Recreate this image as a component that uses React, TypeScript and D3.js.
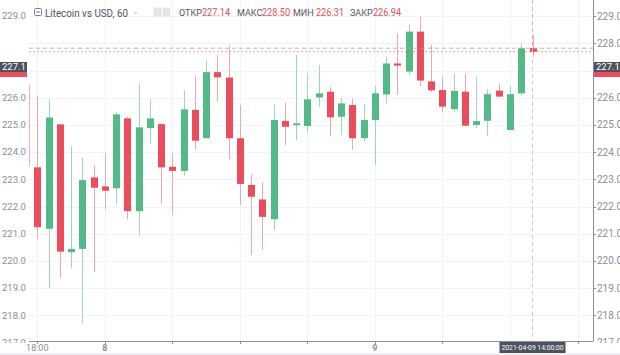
import React from "react";
import * as d3 from "d3";

// Hourly candles, Litecoin vs USD — from 2021-04-07 17:00 (partly hidden) to 2021-04-09 14:00
const opens = [226.47, 223.44, 221.18, 225.02, 220.32, 220.44, 223.07, 222.74, 222.67, 225.24, 221.83, 224.88, 225.03, 223.46,
  223.31, 225.55, 224.51, 226.94, 226.74, 224.51, 222.79, 222.26, 221.53, 225.15, 224.99, 224.96, 226.01, 226.22, 225.3,
  225.73, 224.51, 225.18, 226.12, 227.26, 226.96, 228.43, 226.6, 226.28, 225.58, 226.22, 225.0, 225.15, 226.26, 224.81, 226.16, 227.82];
const highs = [226.47, 226.06, 225.94, 225.05, 224.22, 223.79, 223.51, 223.98, 225.45, 225.3, 226.53, 225.94, 225.03, 223.98,
  226.28, 226.8, 227.39, 227.57, 227.94, 225.73, 223.18, 222.89, 225.76, 225.82, 227.57, 226.9, 227.2, 226.4, 225.98,
  225.98, 225.76, 226.43, 227.51, 228.37, 228.71, 228.98, 227.94, 226.77, 226.9, 226.9, 226.77, 226.31, 226.5, 226.43, 228.0, 228.3];
const lows = [223.46, 220.81, 219.0, 219.36, 219.73, 217.71, 219.6, 221.91, 222.08, 221.53, 220.93, 224.29, 222.09, 221.69,
  223.13, 224.08, 224.5, 225.85, 223.74, 222.06, 220.22, 220.4, 221.14, 224.26, 224.45, 224.7, 225.67, 224.57, 224.63,
  224.08, 224.38, 223.53, 225.79, 226.1, 226.83, 226.43, 226.2, 225.49, 225.5, 224.95, 224.88, 224.6, 226.04, 224.81, 226.1, 227.5];
const closes = [223.46, 221.24, 225.27, 220.34, 220.44, 222.97, 222.69, 222.58, 225.39, 221.83, 224.91, 225.24, 223.44, 223.31,
  225.57, 224.42, 226.94, 226.75, 224.51, 222.83, 222.36, 221.62, 225.18, 224.93, 225.06, 225.94, 226.16, 225.28, 225.79,
  224.51, 225.18, 226.16, 227.26, 227.18, 228.43, 226.63, 226.27, 225.67, 226.25, 224.97, 225.14, 226.13, 226.04, 226.13, 227.82, 227.69];

const startTime = new Date(2021, 3, 7, 17, 0);
const HOUR = 3600 * 1000;
const times = opens.map((_, i) => new Date(startTime.getTime() + i * HOUR));

const yTicks = [217, 218, 219, 220, 221, 222, 223, 224, 225, 226, 228, 229];
const yTicksRight = [217, 218, 219, 220, 221, 222, 223, 224, 225, 226, 228, 229];
const xLabelTimes = [new Date(2021, 3, 7, 18), new Date(2021, 3, 8, 0), new Date(2021, 3, 9, 0)];
const xLabelTexts = ["18:00", "8", "9"];
const gridTimes = [0, 6, 12, 18, 24, 30, 36, 42, 48].map((h) => new Date(2021, 3, 7, 18 + h));

const headerTitle = "Litecoin vs USD, 60";
const ohlcLabels = ["ОТКР", "МАКС", "МИН", "ЗАКР"];
const ohlcValues = ["227.14", "228.50", "226.31", "226.94"];
const crossPrice = 227.82;
const lastPrice = 227.69;
const axisBoxText = "227.1";
const crossTime = new Date(2021, 3, 9, 14);
const crossTimeText = "2021-04-09 14:00:00";

const W = 620;
const H = 355;
const UP = "#53b987";
const DOWN = "#eb4d5c";
const UP_WICK = "#9fd6bb";
const DOWN_WICK = "#f3a7ae";
const GRID = "#f0f3fa";
const TXT = "#8a8e99";
const FONT = "Roboto, 'Open Sans', sans-serif";

export default function App() {
  const plotL = 29;
  const plotR = 593;
  const plotB = 341;

  const x = d3
    .scaleTime()
    .domain([new Date(2021, 3, 7, 18), new Date(2021, 3, 9, 14)])
    .range([37.3, 532.5]);
  const y = d3.scaleLinear().domain([218, 228]).range([315.3, 43.3]);
  const bodyW = 7;

  const headerXs = [179, 237, 293, 350];
  const valueXs = [202, 262, 316, 373];

  return (
    <svg
      width={W}
      height={H}
      style={{ position: "absolute", left: 0, top: 0, background: "#fff", fontFamily: FONT }}
    >
      <defs>
        <clipPath id="plot">
          <rect x={plotL} y={0} width={plotR - plotL} height={plotB} />
        </clipPath>
        <clipPath id="axisL">
          <rect x={0} y={0} width={plotL} height={plotB + 2} />
        </clipPath>
        <clipPath id="axisR">
          <rect x={plotR} y={0} width={W - plotR} height={plotB + 2} />
        </clipPath>
      </defs>
      <rect x={0} y={0} width={W} height={H} fill="#fff" />
      <rect x={0} y={353} width={W} height={2} fill="#eef0f3" />

      {/* grid */}
      <g clipPath="url(#plot)">
        {d3.range(217, 230).map((v) => (
          <line key={"h" + v} x1={plotL} x2={plotR} y1={Math.round(y(v)) + 0.5} y2={Math.round(y(v)) + 0.5} stroke={GRID} />
        ))}
        {gridTimes.map((t, i) => (
          <line key={"v" + i} x1={Math.round(x(t)) + 0.5} x2={Math.round(x(t)) + 0.5} y1={0} y2={plotB} stroke={GRID} />
        ))}
      </g>

      {/* candles */}
      <g clipPath="url(#plot)">
        {times.map((t, i) => {
          const o = opens[i];
          const c = closes[i];
          const up = c >= o;
          const cx = x(t);
          const top = y(Math.max(o, c));
          const bot = y(Math.min(o, c));
          const hidden = cx < plotL;
          return (
            <g key={i} opacity={hidden ? 0.45 : 1}>
              <line
                x1={Math.round(cx) + 0.5}
                x2={Math.round(cx) + 0.5}
                y1={y(highs[i])}
                y2={y(lows[i])}
                stroke={up ? UP_WICK : DOWN_WICK}
                strokeWidth={1}
              />
              <rect
                x={Math.round(cx) + 0.5 - bodyW / 2}
                y={top}
                width={bodyW}
                height={Math.max(1.5, bot - top)}
                fill={up ? UP : DOWN}
              />
            </g>
          );
        })}
        {/* crosshair & price lines */}
        <line x1={plotL} x2={plotR} y1={y(crossPrice)} y2={y(crossPrice)} stroke="#a3a6af" strokeDasharray="4 3" strokeWidth={0.8} />
        <line x1={plotL} x2={plotR} y1={y(lastPrice)} y2={y(lastPrice)} stroke={DOWN} strokeOpacity={0.55} strokeDasharray="2 2" strokeWidth={1} />
        <line x1={x(crossTime)} x2={x(crossTime)} y1={0} y2={y(lastPrice)} stroke={DOWN_WICK} strokeDasharray="4 3" strokeWidth={1} />
        <line x1={x(crossTime)} x2={x(crossTime)} y1={y(lastPrice) + 8} y2={plotB} stroke="#c9cbd1" strokeDasharray="4 3" strokeWidth={1} />
      </g>

      {/* axes lines */}
      <line x1={plotR + 0.5} x2={plotR + 0.5} y1={0} y2={plotB} stroke="#8d9099" />
      <line x1={plotL} x2={plotR} y1={plotB + 0.5} y2={plotB + 0.5} stroke="#8d9099" />

      {/* right axis */}
      <g clipPath="url(#axisR)">
        {yTicksRight.map((v) => (
          <g key={"r" + v}>
            <line x1={plotR} x2={plotR + 3} y1={Math.round(y(v)) + 0.5} y2={Math.round(y(v)) + 0.5} stroke="#8d9099" />
            <text x={plotR + 4} y={y(v)} dy="0.35em" fontSize={10} fill={TXT}>
              {v.toFixed(1)}
            </text>
          </g>
        ))}
      </g>
      {/* left axis */}
      <g clipPath="url(#axisL)">
        {yTicks.filter((v) => v !== 228).map((v) => (
          <text key={"l" + v} x={2} y={y(v)} dy="0.35em" fontSize={9.5} fill={TXT}>
            {v.toFixed(1)}
          </text>
        ))}
      </g>

      {/* axis price boxes */}
      {[0, plotR + 1].map((bx, i) => (
        <g key={"box" + i}>
          <rect x={bx} y={62} width={i === 0 ? 27 : W - bx} height={10} fill="#4c525e" />
          <rect x={bx} y={72} width={i === 0 ? 27 : W - bx} height={5} fill={DOWN} />
          <text x={bx + 2} y={67} dy="0.35em" fontSize={9.5} fill="#fff">
            {axisBoxText}
          </text>
        </g>
      ))}

      {/* x axis labels */}
      {gridTimes.map((t, i) => (
        <line key={"xt" + i} x1={Math.round(x(t)) + 0.5} x2={Math.round(x(t)) + 0.5} y1={plotB} y2={plotB + 3} stroke="#8d9099" />
      ))}
      {xLabelTimes.map((t, i) => (
        <text key={"xl" + i} x={x(t)} y={348} dy="0.35em" fontSize={9} fill={TXT} textAnchor="middle" fontWeight={i > 0 ? 700 : 400}>
          {xLabelTexts[i]}
        </text>
      ))}
      <rect x={x(crossTime) - 33} y={342} width={66} height={11} fill="#4c525e" />
      <text
        x={x(crossTime) - 31}
        y={347.5}
        dy="0.35em"
        fontSize={8}
        fill="#fff"
        textLength={62}
        lengthAdjust="spacingAndGlyphs"
      >
        {crossTimeText}
      </text>

      {/* header legend */}
      <rect x={34.5} y={8.5} width={7} height={7} fill="none" stroke="#7a7e88" rx={1} />
      <line x1={36} x2={40} y1={12} y2={12} stroke="#7a7e88" />
      <text x={45} y={12.5} dy="0.35em" fontSize={11.5} fill="#50535e" textLength={83} lengthAdjust="spacingAndGlyphs">
        {headerTitle}
      </text>
      <line x1={134} x2={137} y1={13} y2={13} stroke="#b2b5be" />
      <rect x={154} y={8} width={7} height={8} fill="#e4e6ea" stroke="#d1d4dc" strokeWidth={0.5} />
      <rect x={163} y={8} width={7} height={8} fill="#e4e6ea" stroke="#d1d4dc" strokeWidth={0.5} />
      {ohlcLabels.map((l, i) => (
        <g key={l}>
          <text x={headerXs[i]} y={12.5} dy="0.35em" fontSize={9} fill="#50535e">
            {l}
          </text>
          <text x={valueXs[i]} y={12.5} dy="0.35em" fontSize={10.5} fill={DOWN} textLength={28} lengthAdjust="spacingAndGlyphs">
            {ohlcValues[i]}
          </text>
        </g>
      ))}
    </svg>
  );
}
